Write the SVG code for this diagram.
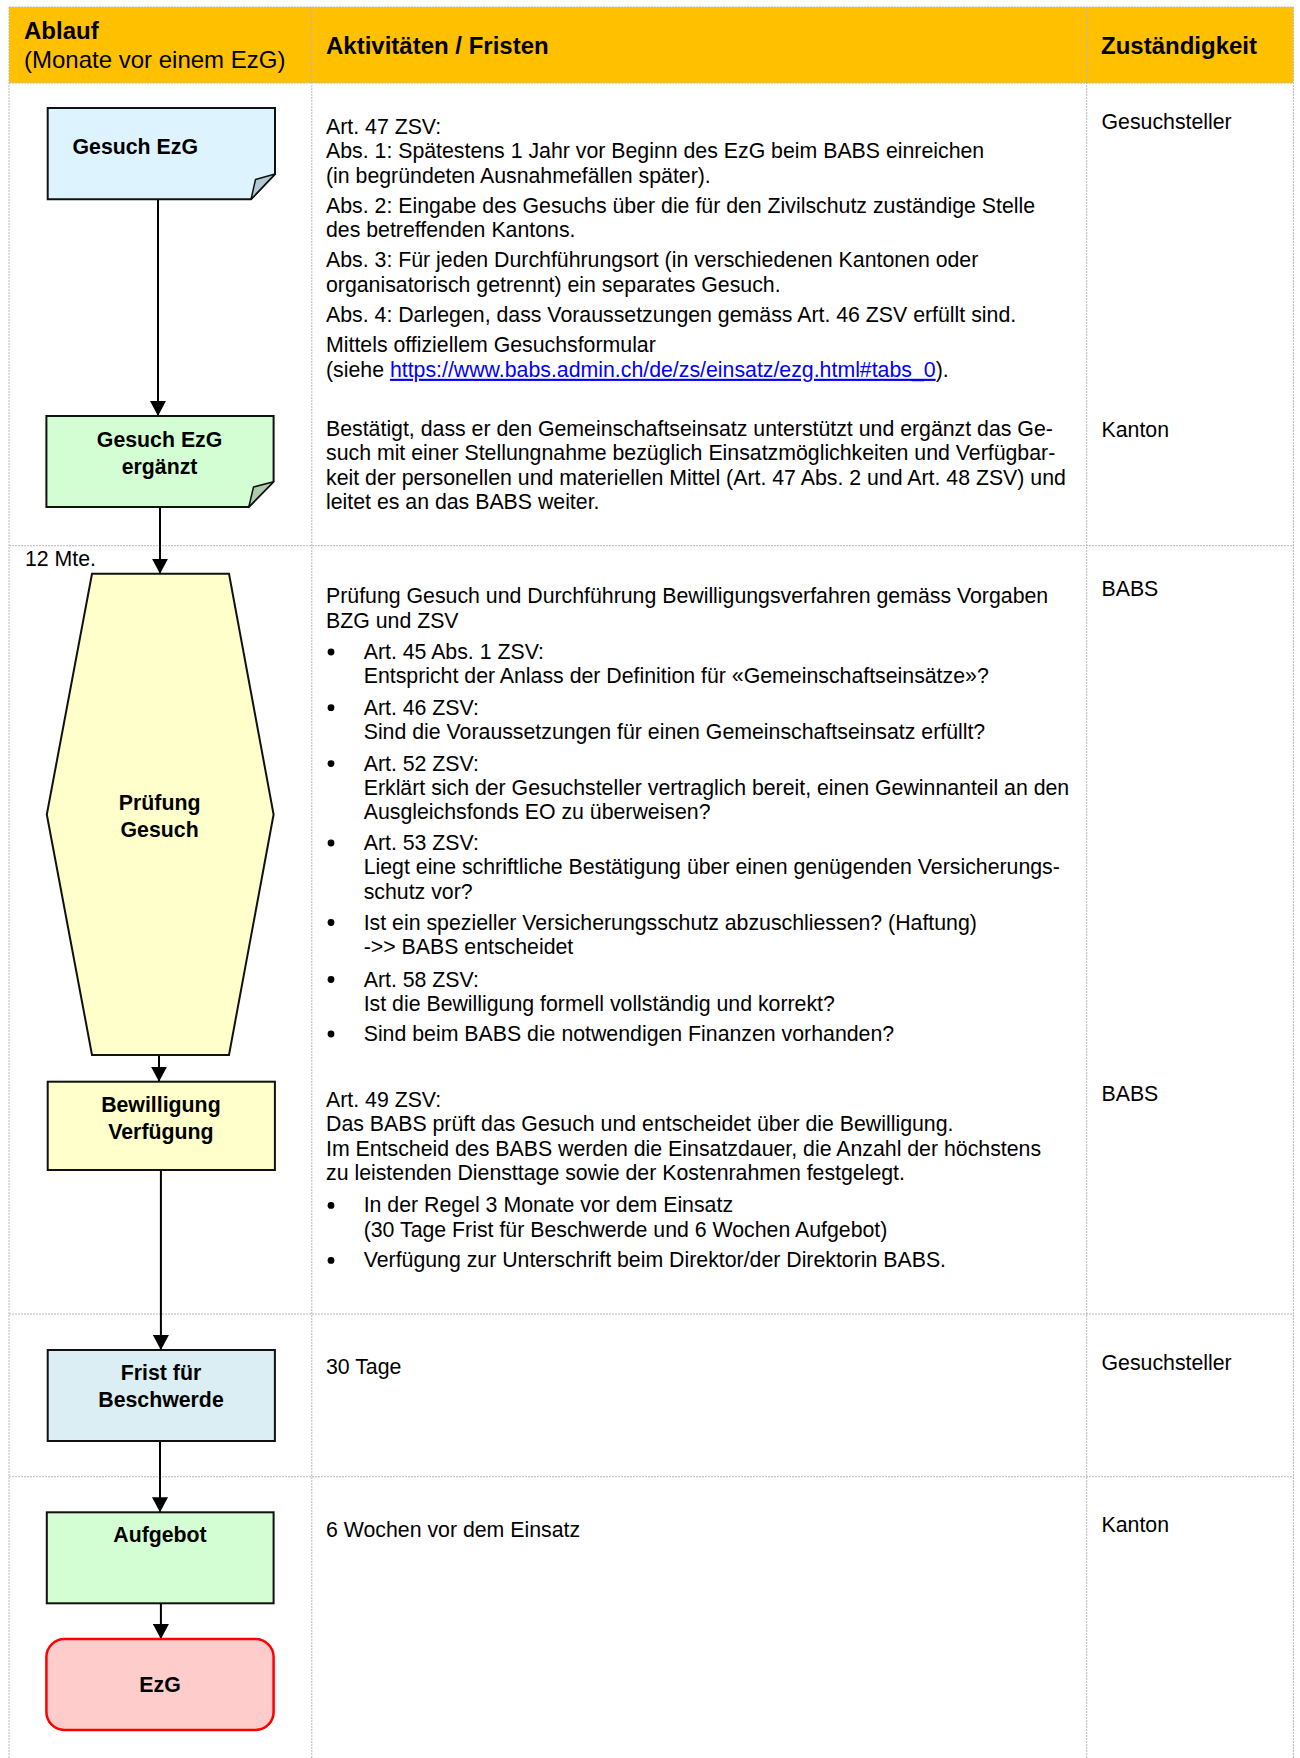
<svg xmlns="http://www.w3.org/2000/svg" width="1300" height="1758" viewBox="0 0 1300 1758">
<defs>
<style>
text{font-family:"Liberation Sans",Arial,sans-serif;font-size:21.3px;fill:#000}
.b{font-weight:bold}
.h{font-size:24px}
.c{text-anchor:middle}
.grid{stroke:#b8b8b8;stroke-width:1;stroke-dasharray:2 1;fill:none}
.node{stroke:#111;stroke-width:2}
.conn{stroke:#000;stroke-width:2;fill:none;marker-end:url(#arr)}
.link{fill:#0000ff;text-decoration:underline}
.dot{fill:#000}
</style>
<marker id="arr" markerUnits="userSpaceOnUse" markerWidth="16" markerHeight="16" refX="15" refY="8" orient="auto">
<path d="M0,0 L15,8 L0,16 Z" fill="#000"/>
</marker>
</defs>
<rect x="0" y="0" width="1300" height="1758" fill="#fff"/>
<g id="table">
<rect x="9" y="7" width="1284.4" height="76" fill="#FFC000"/>
<line class="grid" x1="9" y1="7" x2="1293.4" y2="7"/>
<line class="grid" x1="9" y1="83" x2="1293.4" y2="83"/>
<line class="grid" x1="9" y1="545.7" x2="1293.4" y2="545.7"/>
<line class="grid" x1="9" y1="1314" x2="1293.4" y2="1314"/>
<line class="grid" x1="9" y1="1476.7" x2="1293.4" y2="1476.7"/>
<line class="grid" x1="9" y1="7" x2="9" y2="1758"/>
<line class="grid" x1="311.8" y1="7" x2="311.8" y2="1758"/>
<line class="grid" x1="1086.7" y1="7" x2="1086.7" y2="1758"/>
<line class="grid" x1="1293.4" y1="7" x2="1293.4" y2="1758"/>
<text class="b h" x="24" y="38.5">Ablauf</text>
<text class="h" x="24" y="67.5">(Monate vor einem EzG)</text>
<text class="b h" x="326" y="53.5">Aktivitäten / Fristen</text>
<text class="b h" x="1101" y="53.5">Zuständigkeit</text>
</g>
<g id="activities">
<text x="326" y="134">Art. 47 ZSV:</text>
<text x="326" y="158.4">Abs. 1: Spätestens 1 Jahr vor Beginn des EzG beim BABS einreichen</text>
<text x="326" y="182.8">(in begründeten Ausnahmefällen später).</text>
<text x="326" y="213">Abs. 2: Eingabe des Gesuchs über die für den Zivilschutz zuständige Stelle</text>
<text x="326" y="237.4">des betreffenden Kantons.</text>
<text x="326" y="267.4">Abs. 3: Für jeden Durchführungsort (in verschiedenen Kantonen oder</text>
<text x="326" y="291.8">organisatorisch getrennt) ein separates Gesuch.</text>
<text x="326" y="322.4">Abs. 4: Darlegen, dass Voraussetzungen gemäss Art. 46 ZSV erfüllt sind.</text>
<text x="326" y="352.4">Mittels offiziellem Gesuchsformular</text>
<text x="326" y="376.8">(siehe <tspan class="link">https://www.babs.admin.ch/de/zs/einsatz/ezg.html#tabs_0</tspan>).</text>
<text x="326" y="435.7">Bestätigt, dass er den Gemeinschaftseinsatz unterstützt und ergänzt das Ge-</text>
<text x="326" y="460.1">such mit einer Stellungnahme bezüglich Einsatzmöglichkeiten und Verfügbar-</text>
<text x="326" y="484.5">keit der personellen und materiellen Mittel (Art. 47 Abs. 2 und Art. 48 ZSV) und</text>
<text x="326" y="508.9">leitet es an das BABS weiter.</text>

<text x="326" y="603.2">Prüfung Gesuch und Durchführung Bewilligungsverfahren gemäss Vorgaben</text>
<text x="326" y="627.6">BZG und ZSV</text>
<circle class="dot" cx="331" cy="652" r="3.4"/><text x="363.7" y="659">Art. 45 Abs. 1 ZSV:</text>
<text x="363.7" y="683.4">Entspricht der Anlass der Definition für «Gemeinschaftseinsätze»?</text>
<circle class="dot" cx="331" cy="707.7" r="3.4"/><text x="363.7" y="714.7">Art. 46 ZSV:</text>
<text x="363.7" y="739.1">Sind die Voraussetzungen für einen Gemeinschaftseinsatz erfüllt?</text>
<circle class="dot" cx="331" cy="763.6" r="3.4"/><text x="363.7" y="770.6">Art. 52 ZSV:</text>
<text x="363.7" y="795">Erklärt sich der Gesuchsteller vertraglich bereit, einen Gewinnanteil an den</text>
<text x="363.7" y="819.4">Ausgleichsfonds EO zu überweisen?</text>
<circle class="dot" cx="331" cy="843" r="3.4"/><text x="363.7" y="850">Art. 53 ZSV:</text>
<text x="363.7" y="874.4">Liegt eine schriftliche Bestätigung über einen genügenden Versicherungs-</text>
<text x="363.7" y="898.8">schutz vor?</text>
<circle class="dot" cx="331" cy="922.5" r="3.4"/><text x="363.7" y="929.5">Ist ein spezieller Versicherungsschutz abzuschliessen? (Haftung)</text>
<text x="363.7" y="953.9">-&gt;&gt; BABS entscheidet</text>
<circle class="dot" cx="331" cy="979.5" r="3.4"/><text x="363.7" y="986.5">Art. 58 ZSV:</text>
<text x="363.7" y="1010.9">Ist die Bewilligung formell vollständig und korrekt?</text>
<circle class="dot" cx="331" cy="1034" r="3.4"/><text x="363.7" y="1041">Sind beim BABS die notwendigen Finanzen vorhanden?</text>

<text x="326" y="1106.7">Art. 49 ZSV:</text>
<text x="326" y="1131.1">Das BABS prüft das Gesuch und entscheidet über die Bewilligung.</text>
<text x="326" y="1155.5">Im Entscheid des BABS werden die Einsatzdauer, die Anzahl der höchstens</text>
<text x="326" y="1179.9">zu leistenden Diensttage sowie der Kostenrahmen festgelegt.</text>
<circle class="dot" cx="331" cy="1205.4" r="3.4"/><text x="363.7" y="1212.4">In der Regel 3 Monate vor dem Einsatz</text>
<text x="363.7" y="1236.8">(30 Tage Frist für Beschwerde und 6 Wochen Aufgebot)</text>
<circle class="dot" cx="331" cy="1260.4" r="3.4"/><text x="363.7" y="1267.4">Verfügung zur Unterschrift beim Direktor/der Direktorin BABS.</text>

<text x="326" y="1374">30 Tage</text>
<text x="326" y="1537.4">6 Wochen vor dem Einsatz</text>
</g>
<g id="responsibility">
<text x="1101.5" y="129">Gesuchsteller</text>
<text x="1101.5" y="436.7">Kanton</text>
<text x="1101.5" y="595.7">BABS</text>
<text x="1101.5" y="1100.7">BABS</text>
<text x="1101.5" y="1370">Gesuchsteller</text>
<text x="1101.5" y="1532.4">Kanton</text>
</g>
<text x="25" y="566.4">12 Mte.</text>
<g id="connectors">
<line class="conn" x1="158" y1="199.3" x2="158" y2="416"/>
<line class="conn" x1="160" y1="507" x2="160" y2="573.8"/>
<line class="conn" x1="159" y1="1054.9" x2="159" y2="1081.7"/>
<line class="conn" x1="160.9" y1="1170" x2="160.9" y2="1350"/>
<line class="conn" x1="160" y1="1441" x2="160" y2="1512.3"/>
<line class="conn" x1="160.9" y1="1603.3" x2="160.9" y2="1639"/>
</g>
<g id="node-gesuch">
<path class="node" d="M47.7,108 H275 V174 L251,199.3 H47.7 Z" fill="#DDF3FD"/>
<polygon points="275,174 255.5,179.5 251,199.3" fill="#B3C8D2" stroke="#111" stroke-width="1.5" stroke-linejoin="round"/>
<text class="b" x="72.5" y="153.7">Gesuch EzG</text>
</g>
<g id="node-ergaenzt">
<path class="node" d="M46.4,416 H273.6 V481.7 L248.8,507 H46.4 Z" fill="#D3FDD3"/>
<polygon points="273.6,481.7 253.5,487 248.8,507" fill="#AECBAE" stroke="#111" stroke-width="1.5" stroke-linejoin="round"/>
<text class="b c" x="159.6" y="447.4">Gesuch EzG</text>
<text class="b c" x="159.6" y="474">ergänzt</text>
</g>
<g id="node-pruefung">
<polygon class="node" points="92,573.8 229,573.8 273.6,814.5 229,1054.9 92,1054.9 46.8,814.5" fill="#FFFFCC"/>
<text class="b c" x="159.6" y="809.5">Prüfung</text>
<text class="b c" x="159.6" y="836.5">Gesuch</text>
</g>
<g id="node-bewilligung">
<rect class="node" x="47.7" y="1081.7" width="227.2" height="88.3" fill="#FFFFCC"/>
<text class="b c" x="160.9" y="1112.4">Bewilligung</text>
<text class="b c" x="160.9" y="1139">Verfügung</text>
</g>
<g id="node-frist">
<rect class="node" x="47.7" y="1350" width="227.2" height="91" fill="#DAEEF3"/>
<text class="b c" x="161" y="1380">Frist für</text>
<text class="b c" x="161" y="1407.4">Beschwerde</text>
</g>
<g id="node-aufgebot">
<rect class="node" x="46.8" y="1512.3" width="226.8" height="91" fill="#D3FDD3"/>
<text class="b c" x="160" y="1542.4">Aufgebot</text>
</g>
<g id="node-ezg">
<rect x="46.4" y="1639" width="227.2" height="91" rx="18" ry="18" fill="#FFCCCC" stroke="#FF0000" stroke-width="2.5"/>
<text class="b c" x="160" y="1692.4">EzG</text>
</g>
</svg>
